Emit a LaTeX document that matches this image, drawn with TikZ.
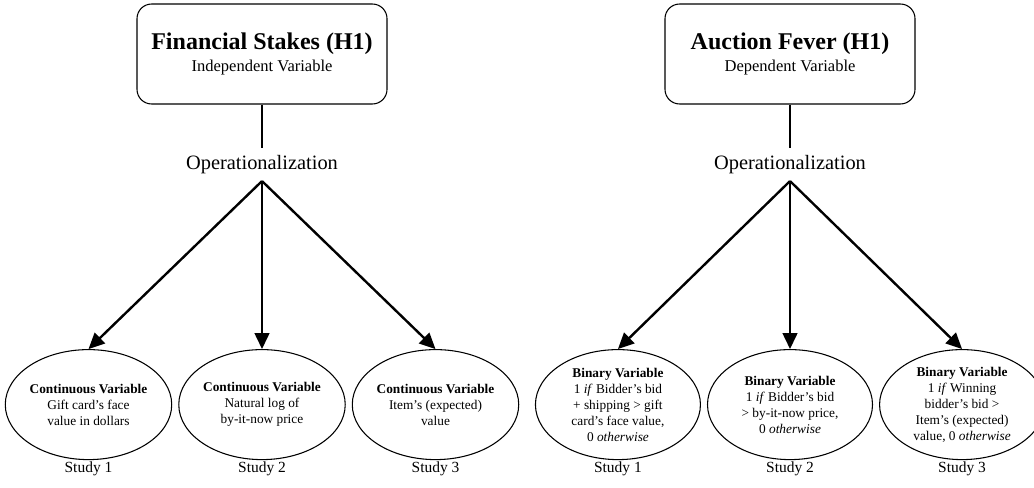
\documentclass[tikz,border=0pt]{standalone}
\usepackage{fontspec}
\setmainfont{Liberation Serif}
\usetikzlibrary{shapes, arrows.meta, positioning}
\tikzset{
    hypbox/.style={rectangle, draw, line width=0.8pt, rounded corners=11pt, align=center, minimum width=187.5pt, minimum height=75pt, font=\fontsize{12.4}{16.5}\selectfont},
    opnode/.style={inner sep=0pt, minimum height=24.75pt, font=\fontsize{15.3}{18}\selectfont},
    varell/.style={ellipse, draw, line width=0.8pt, align=center, inner sep=0pt, minimum width=123.75pt, minimum height=82.5pt, font=\fontsize{10}{12}\selectfont},
    studylabel/.style={inner sep=1pt, font=\fontsize{11.6}{14}\selectfont},
    stem/.style={line width=1.8pt},
    arrow/.style={line width=1.8pt, -{Triangle[length=12pt, width=11pt]}}
}

\begin{document}
\begin{tikzpicture}
            \useasboundingbox (0,0) rectangle (775.5pt,365.25pt);

            \node[hypbox] (stakes) at (196.5pt,324.75pt) {{\fontsize{18}{21}\bfseries Financial Stakes (H1)}\\ Independent Variable};
            \node[opnode, below=32.25pt of stakes] (opstakes) {Operationalization};
            \node[varell, below=126pt of opstakes] (cont2) {\textbf{Continuous Variable}\\ Natural log of\\ by-it-now price};
            \node[varell, left=4.5pt of cont2] (cont1) {\textbf{Continuous Variable}\\ Gift card's face\\ value in dollars};
            \node[varell, right=4.5pt of cont2] (cont3) {\textbf{Continuous Variable}\\ Item's (expected)\\ value};
            \node[studylabel, below=0pt of cont1] (studya1) {Study 1};
            \node[studylabel, below=0pt of cont2] (studya2) {Study 2};
            \node[studylabel, below=0pt of cont3] (studya3) {Study 3};

            \node[hypbox] (fever) at (592.5pt,324.75pt) {{\fontsize{18}{21}\bfseries Auction Fever (H1)}\\ Dependent Variable};
            \node[opnode, below=32.25pt of fever] (opfever) {Operationalization};
            \node[varell, below=126pt of opfever] (bin2) {\textbf{Binary Variable}\\ 1 \textit{if} Bidder's bid\\ > by-it-now price,\\ 0 \textit{otherwise}};
            \node[varell, left=4.5pt of bin2] (bin1) {\textbf{Binary Variable}\\ 1 \textit{if} Bidder's bid\\ + shipping > gift\\ card's face value,\\ 0 \textit{otherwise}};
            \node[varell, right=4.5pt of bin2] (bin3) {\textbf{Binary Variable}\\ 1 \textit{if} Winning\\ bidder's bid >\\ Item's (expected)\\ value, 0 \textit{otherwise}};
            \node[studylabel, below=0pt of bin1] (studyb1) {Study 1};
            \node[studylabel, below=0pt of bin2] (studyb2) {Study 2};
            \node[studylabel, below=0pt of bin3] (studyb3) {Study 3};

            \draw[stem] (stakes) -- (opstakes);
            \draw[arrow] (opstakes.south) -- (cont1.north);
            \draw[arrow] (opstakes.south) -- (cont2.north);
            \draw[arrow] (opstakes.south) -- (cont3.north);
            \draw[stem] (fever) -- (opfever);
            \draw[arrow] (opfever.south) -- (bin1.north);
            \draw[arrow] (opfever.south) -- (bin2.north);
            \draw[arrow] (opfever.south) -- (bin3.north);
        \end{tikzpicture}
\end{document}
